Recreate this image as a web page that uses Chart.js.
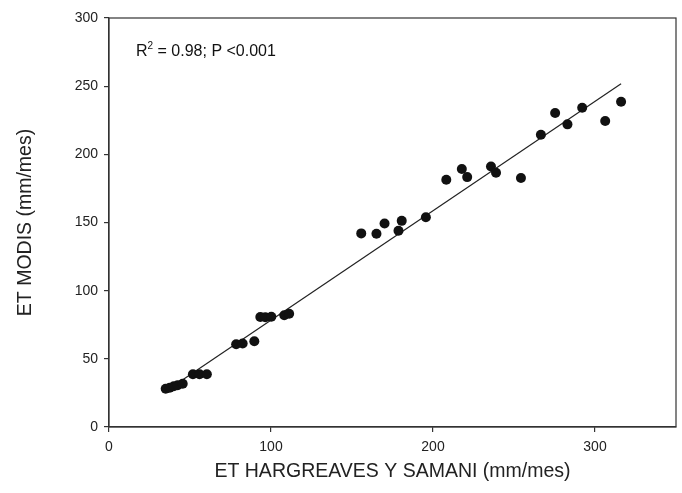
<!DOCTYPE html>
<html>
<head>
<meta charset="utf-8">
<script src="https://cdn.jsdelivr.net/npm/chart.js@4/dist/chart.umd.min.js"></script>
<style>
  html, body { margin: 0; padding: 0; background: #fff; }
  #wrap { width: 682px; height: 493px; position: relative; }
</style>
</head>
<body>
<div id="wrap"><canvas id="c" width="682" height="493"></canvas></div>
<script>
// Data
const etHargreaves = [35.0, 37.5, 40.0, 42.4, 45.5, 51.8, 55.9, 60.4, 78.5, 82.5, 89.7,
  93.4, 96.5, 100.2, 108.2, 111.2, 155.7, 165.1, 170.1, 178.7, 180.7, 195.6,
  208.2, 217.8, 221.1, 235.8, 238.9, 254.3, 266.6, 275.4, 283.0, 292.1, 306.3, 316.1];
const etModis = [28.0, 28.8, 29.9, 30.6, 31.7, 38.7, 38.7, 38.7, 60.7, 61.2, 62.9,
  80.7, 80.5, 80.9, 82.0, 83.1, 142.0, 141.7, 149.3, 143.9, 151.2, 153.9,
  181.3, 189.2, 183.3, 191.1, 186.5, 182.6, 214.3, 230.3, 222.0, 234.2, 224.4, 238.6];
const fitLineX = [35.0, 316.1];
const fitLineY = [26.2, 251.8];
const xTicks = [0, 100, 200, 300];
const yTicks = [0, 50, 100, 150, 200, 250, 300];
const xTitle = 'ET HARGREAVES Y SAMANI (mm/mes)';
const yTitle = 'ET MODIS (mm/mes)';

const FONT = "'Liberation Sans', Arial, Helvetica, sans-serif";
const TXT = '#222';

const pts = etHargreaves.map((x, i) => ({x: x, y: etModis[i]}));
const fit = fitLineX.map((x, i) => ({x: x, y: fitLineY[i]}));

const framePlugin = {
  id: 'frame',
  afterDraw(chart) {
    const {ctx, chartArea: a} = chart;
    ctx.save();
    ctx.strokeStyle = '#333';
    ctx.lineWidth = 1.2;
    ctx.strokeRect(a.left, a.top, a.right - a.left, a.bottom - a.top);
    // annotation
    ctx.fillStyle = '#111';
    ctx.textBaseline = 'alphabetic';
    ctx.font = '16px ' + FONT;
    let x = 136, y = 56;
    ctx.fillText('R', x, y);
    x += ctx.measureText('R').width;
    ctx.font = '10px ' + FONT;
    ctx.fillText('2', x, y - 7);
    x += ctx.measureText('2').width;
    ctx.font = '16px ' + FONT;
    ctx.fillText(' = 0.98; P <0.001', x, y);
    ctx.restore();
  }
};

new Chart(document.getElementById('c'), {
  type: 'scatter',
  data: {
    datasets: [
      {
        data: pts,
        backgroundColor: '#111',
        borderColor: '#111',
        pointRadius: 5,
        pointHoverRadius: 5,
        borderWidth: 0,
        order: 1
      },
      {
        type: 'line',
        data: fit,
        borderColor: '#222',
        borderWidth: 1.2,
        pointRadius: 0,
        fill: false,
        showLine: true,
        order: 2
      }
    ]
  },
  options: {
    responsive: false,
    animation: false,
    devicePixelRatio: 1,
    layout: { padding: { left: 0, right: 6, top: 18, bottom: 0 } },
    plugins: { legend: { display: false }, tooltip: { enabled: false } },
    scales: {
      x: {
        type: 'linear',
        min: 0, max: 350,
        afterBuildTicks: s => { s.ticks = xTicks.map(v => ({value: v})); },
        afterFit: s => { s.height = 66; },
        grid: { drawOnChartArea: false, drawTicks: true, tickLength: 5, color: '#333', lineWidth: 1.2 },
        border: { display: true, color: '#333', width: 1.2 },
        ticks: { color: TXT, font: { family: FONT, size: 14 }, padding: 7, maxRotation: 0 },
        title: { display: true, text: xTitle, color: TXT, font: { family: FONT, size: 19.5 }, padding: { top: 0, bottom: 10 } }
      },
      y: {
        type: 'linear',
        min: 0, max: 300,
        afterBuildTicks: s => { s.ticks = yTicks.map(v => ({value: v})); },
        afterFit: s => { s.width = 109; },
        grid: { drawOnChartArea: false, drawTicks: true, tickLength: 5, color: '#333', lineWidth: 1.2 },
        border: { display: true, color: '#333', width: 1.2 },
        ticks: { color: TXT, font: { family: FONT, size: 14 }, padding: 6 },
        title: { display: true, text: yTitle, color: TXT, font: { family: FONT, size: 19.5 }, padding: { top: 14, bottom: 0 } }
      }
    }
  },
  plugins: [framePlugin]
});
</script>
</body>
</html>
